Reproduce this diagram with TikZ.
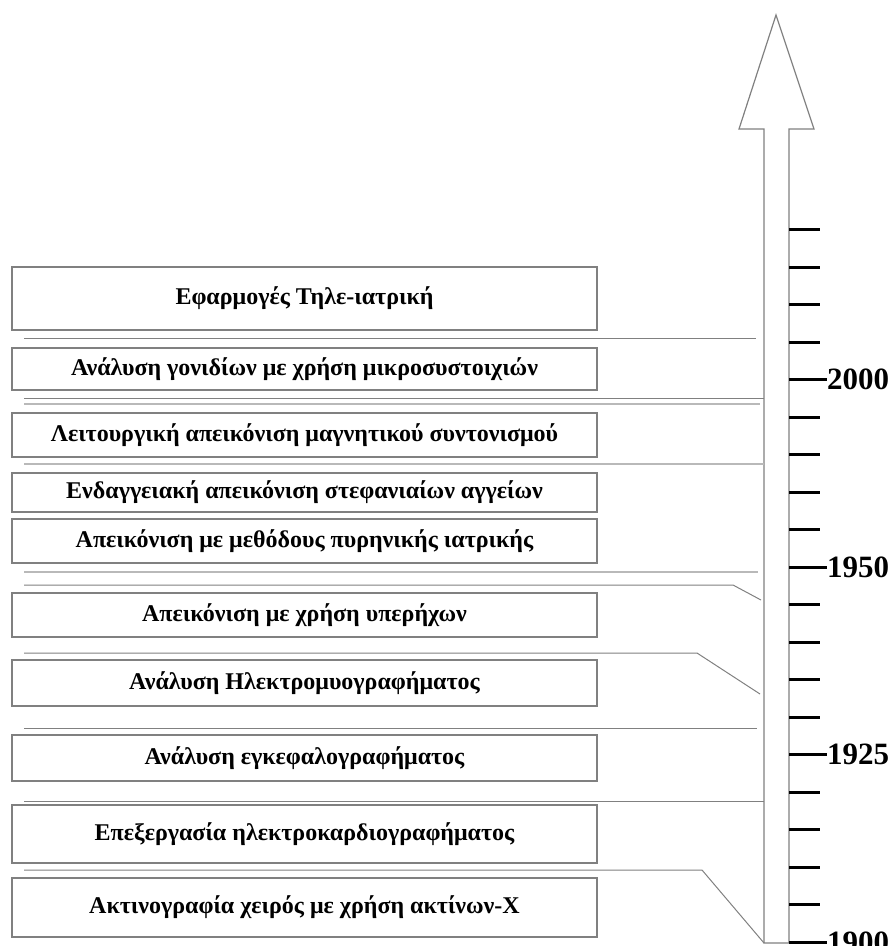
\documentclass[tikz,border=0pt]{standalone}
\usepackage{fontspec}
\setmainfont{Liberation Serif}
\usepackage{tikz}
\usetikzlibrary{positioning}
\definecolor{lineg}{RGB}{128,128,128}
\definecolor{lightg}{RGB}{185,185,185}
\tikzset{>={stealth}}
\tikzset{
    event/.style={draw=lineg,line width=1.2pt,inner sep=0pt,minimum width=585pt,
        font=\fontsize{24}{26}\selectfont\bfseries},
    divider/.style={draw=lineg,line width=1pt},
    lightdiv/.style={draw=lightg,line width=1.6pt},
    tick/.style={draw=black,line width=3pt},
    year/.style={anchor=west,inner sep=0pt,font=\fontsize{31}{33}\selectfont\bfseries}
}

\begin{document}
\begin{tikzpicture}[x=1pt,y=-1pt]
    \useasboundingbox (0,0) rectangle (893,946);
    % time arrow
    \coordinate (shaftbl) at (764,943);
    \coordinate (shaftbr) at (789,943);
    \coordinate (tip) at (776,15);
    \draw[lineg,line width=1.2pt] (shaftbl)--(764,129)--(739,129)--(tip)--(814,129)--(789,129)--(shaftbr)--cycle;
    \foreach \i in {0,...,19}
        \draw[tick] (789,942-\i*37.5)--(820,942-\i*37.5);
    \foreach \i/\yr in {0/1900,5/1925,10/1950,15/2000}{
        \draw[tick] (789,942-\i*37.5)--(827,942-\i*37.5);
        \node[year] (y\yr) at (827,942-\i*37.5) {\yr};
    }
    % events
    \node[event,minimum height=63pt] (tele) at (304.5,298.5) {Εφαρμογές Τηλε-ιατρική};
    \node[event,minimum height=42pt] (gene) at (304.5,369) {Ανάλυση γονιδίων με χρήση μικροσυστοιχιών};
    \node[event,minimum height=44pt] (fmri) at (304.5,435) {Λειτουργική απεικόνιση μαγνητικού συντονισμού};
    \node[event,minimum height=39pt] (endo) at (304.5,492.5) {Ενδαγγειακή απεικόνιση στεφανιαίων αγγείων};
    \node[event,minimum height=44pt] (nucl) at (304.5,541) {Απεικόνιση με μεθόδους πυρηνικής ιατρικής};
    \node[event,minimum height=44pt] (ultra) at (304.5,615) {Απεικόνιση με χρήση υπερήχων};
    \node[event,minimum height=46pt] (emg) at (304.5,683) {Ανάλυση Ηλεκτρομυογραφήματος};
    \node[event,minimum height=46pt] (eeg) at (304.5,758) {Ανάλυση εγκεφαλογραφήματος};
    \node[event,minimum height=58pt] (ecg) at (304.5,834) {Επεξεργασία ηλεκτροκαρδιογραφήματος};
    \node[event,minimum height=59pt] (xray) at (304.5,907.5) {Ακτινογραφία χειρός με χρήση ακτίνων-Χ};
    % separators
    \draw[divider] (24,338)--(756,338);
    \draw[divider] (24,398)--(764,398);
    \draw[lightdiv] (24,404)--(760,404);
    \draw[lightdiv] (24,464)--(764,464);
    \draw[lightdiv] (24,572)--(758,572);
    \draw[divider] (24,585)--(733,585)--(761,600);
    \draw[divider] (24,653)--(697,653)--(760,694);
    \draw[divider] (24,728)--(757,728);
    \draw[divider] (24,801)--(764,801);
    \draw[divider] (24,870)--(702,870)--(shaftbl);
\end{tikzpicture}
\end{document}
